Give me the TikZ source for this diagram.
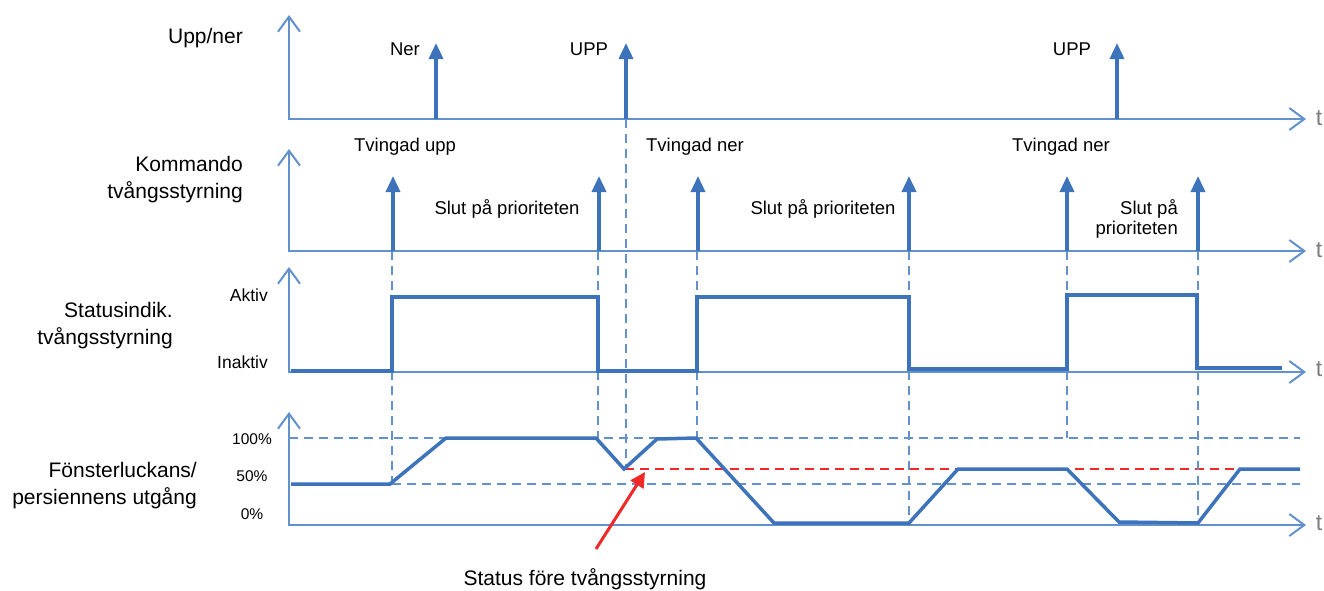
\documentclass[tikz,border=0pt]{standalone}
\usepackage{fontspec}
\setmainfont{Liberation Sans}
\usetikzlibrary{arrows.meta}

\definecolor{axisblue}{RGB}{98,146,206}
\definecolor{sigblue}{RGB}{60,115,186}
\definecolor{guideblue}{RGB}{100,145,205}
\definecolor{tgray}{RGB}{125,125,125}
\definecolor{markred}{RGB}{240,40,40}

\tikzset{
  barb/.tip={Straight Barb[length=15pt,width=22pt,line width=2pt]},
  axisline/.style={draw=axisblue, line width=2pt, line join=miter, barb-barb},
  impulse/.style={draw=sigblue, line width=3.5pt, -{Triangle[length=16pt,width=14pt]}},
  signal/.style={draw=sigblue, line width=3.5pt, line join=miter},
  guide/.style={draw=guideblue, line width=2.2pt, dash pattern=on 9pt off 6pt},
  redguide/.style={draw=markred, line width=2.2pt, dash pattern=on 9pt off 6pt},
  redarrow/.style={draw=markred, line width=3pt, -{Triangle[length=15pt,width=15pt]}},
  biglabel/.style={inner sep=0pt, align=right, anchor=east, font=\fontsize{21}{27}\selectfont},
  evlabel/.style={inner sep=0pt, font=\fontsize{18.5}{21}\selectfont},
  lvlabel/.style={inner sep=0pt, anchor=east, font=\fontsize{17.5}{20}\selectfont},
  pctlabel/.style={inner sep=0pt, font=\fontsize{15.5}{18}\selectfont},
  tlabel/.style={inner sep=0pt, text=tgray, font=\fontsize{23}{26}\selectfont},
}

\begin{document}
\begin{tikzpicture}[x=1pt,y=-1pt]
\useasboundingbox (0,0) rectangle (1324,590);

% ---------- row labels ----------
\node[biglabel] (lab-updown) at (243,38) {Upp/ner};
\node[biglabel] (lab-cmd) at (243,180) {Kommando\\tvångsstyrning};
\node[biglabel] (lab-status) at (173,326) {Statusindik.\\tvångsstyrning};
\node[biglabel] (lab-output) at (197,486) {Fönsterluckans/\\persiennens utgång};

% ---------- guide lines (behind the signals) ----------
\draw[guide] (289,438) -- (1300,438);
\draw[guide] (392,484) -- (1300,484);
\draw[redguide] (625,469) -- (1240,469);

\coordinate (g1a) at (392,251); \coordinate (g1b) at (392,484);
\coordinate (g2a) at (598,251); \coordinate (g2b) at (598,438);
\coordinate (g3a) at (626,119); \coordinate (g3b) at (626,469);
\coordinate (g4a) at (697,251); \coordinate (g4b) at (697,438);
\coordinate (g5a) at (909,251); \coordinate (g5b) at (909,524);
\coordinate (g6a) at (1067,251); \coordinate (g6b) at (1067,438);
\coordinate (g7a) at (1198,251); \coordinate (g7b) at (1198,524);
\foreach \g in {1,...,7} {\draw[guide] (g\g a) -- (g\g b);}

% ---------- axes ----------
\draw[axisline] (289,15) -- (289,119) -- (1306,119);
\draw[axisline] (289,149) -- (289,251) -- (1306,251);
\draw[axisline] (289,267) -- (289,372) -- (1306,372);
\draw[axisline] (289,412) -- (289,525) -- (1306,525);

\node[tlabel] (t1) at (1319,118) {t};
\node[tlabel] (t2) at (1319,250) {t};
\node[tlabel] (t3) at (1319,369) {t};
\node[tlabel] (t4) at (1319,523) {t};

% ---------- row 1: up/down commands ----------
\coordinate (ner-b) at (436,119); \coordinate (ner-t) at (436,43);
\coordinate (upp1-b) at (626,119); \coordinate (upp1-t) at (626,43);
\coordinate (upp2-b) at (1117,119); \coordinate (upp2-t) at (1117,43);
\draw[impulse] (ner-b) -- (ner-t);
\draw[impulse] (upp1-b) -- (upp1-t);
\draw[impulse] (upp2-b) -- (upp2-t);
\node[evlabel] (ner) at (405,49) {Ner};
\node[evlabel] (upp1) at (589,49) {UPP};
\node[evlabel] (upp2) at (1072,49) {UPP};

% ---------- row 2: forced-control commands ----------
\foreach \n/\x in {c1/393, c2/599, c3/698, c4/909, c5/1067, c6/1198} {
  \coordinate (\n-b) at (\x,251);
  \coordinate (\n-t) at (\x,176);
  \draw[impulse] (\n-b) -- (\n-t);
}
\node[evlabel] (tup) at (405,147) {Tvingad upp};
\node[evlabel] (tner1) at (695,147) {Tvingad ner};
\node[evlabel] (tner2) at (1061,147) {Tvingad ner};
\node[evlabel] (slut1) at (507,209) {Slut på prioriteten};
\node[evlabel] (slut2) at (823,209) {Slut på prioriteten};
\node[evlabel, align=right, anchor=east, font=\fontsize{18.5}{20}\selectfont] (slut3) at (1178,219) {Slut på\\prioriteten};

% ---------- row 3: status indication ----------
\node[lvlabel] (aktiv) at (268,295) {Aktiv};
\node[lvlabel] (inaktiv) at (268,362) {Inaktiv};
\draw[signal] (291,371) -- (392,371) -- (392,297) -- (598,297) -- (598,371)
  -- (697,371) -- (697,297) -- (909,297) -- (909,369) -- (1067,369)
  -- (1067,295) -- (1197,295) -- (1197,368) -- (1282,368);

% ---------- row 4: shutter / blind output ----------
\node[pctlabel] (p100) at (252,439) {100\%};
\node[pctlabel] (p50) at (252,476) {50\%};
\node[pctlabel] (p0) at (252,514) {0\%};
\draw[signal] (291,484) -- (390,484) -- (446,438) -- (596,438) -- (624,469)
  -- (657,439) -- (696,438) -- (774,523) -- (909,523) -- (958,469)
  -- (1067,469) -- (1119,522) -- (1198,523) -- (1240,469) -- (1300,469);

% ---------- remembered position annotation ----------
\node[inner sep=0pt, font=\fontsize{21}{25}\selectfont] (note) at (585,579) {Status före tvångsstyrning};
\coordinate (red-tail) at (596,549);
\coordinate (red-tip) at (645,472);
\draw[redarrow] (red-tail) -- (red-tip);
\end{tikzpicture}
\end{document}
